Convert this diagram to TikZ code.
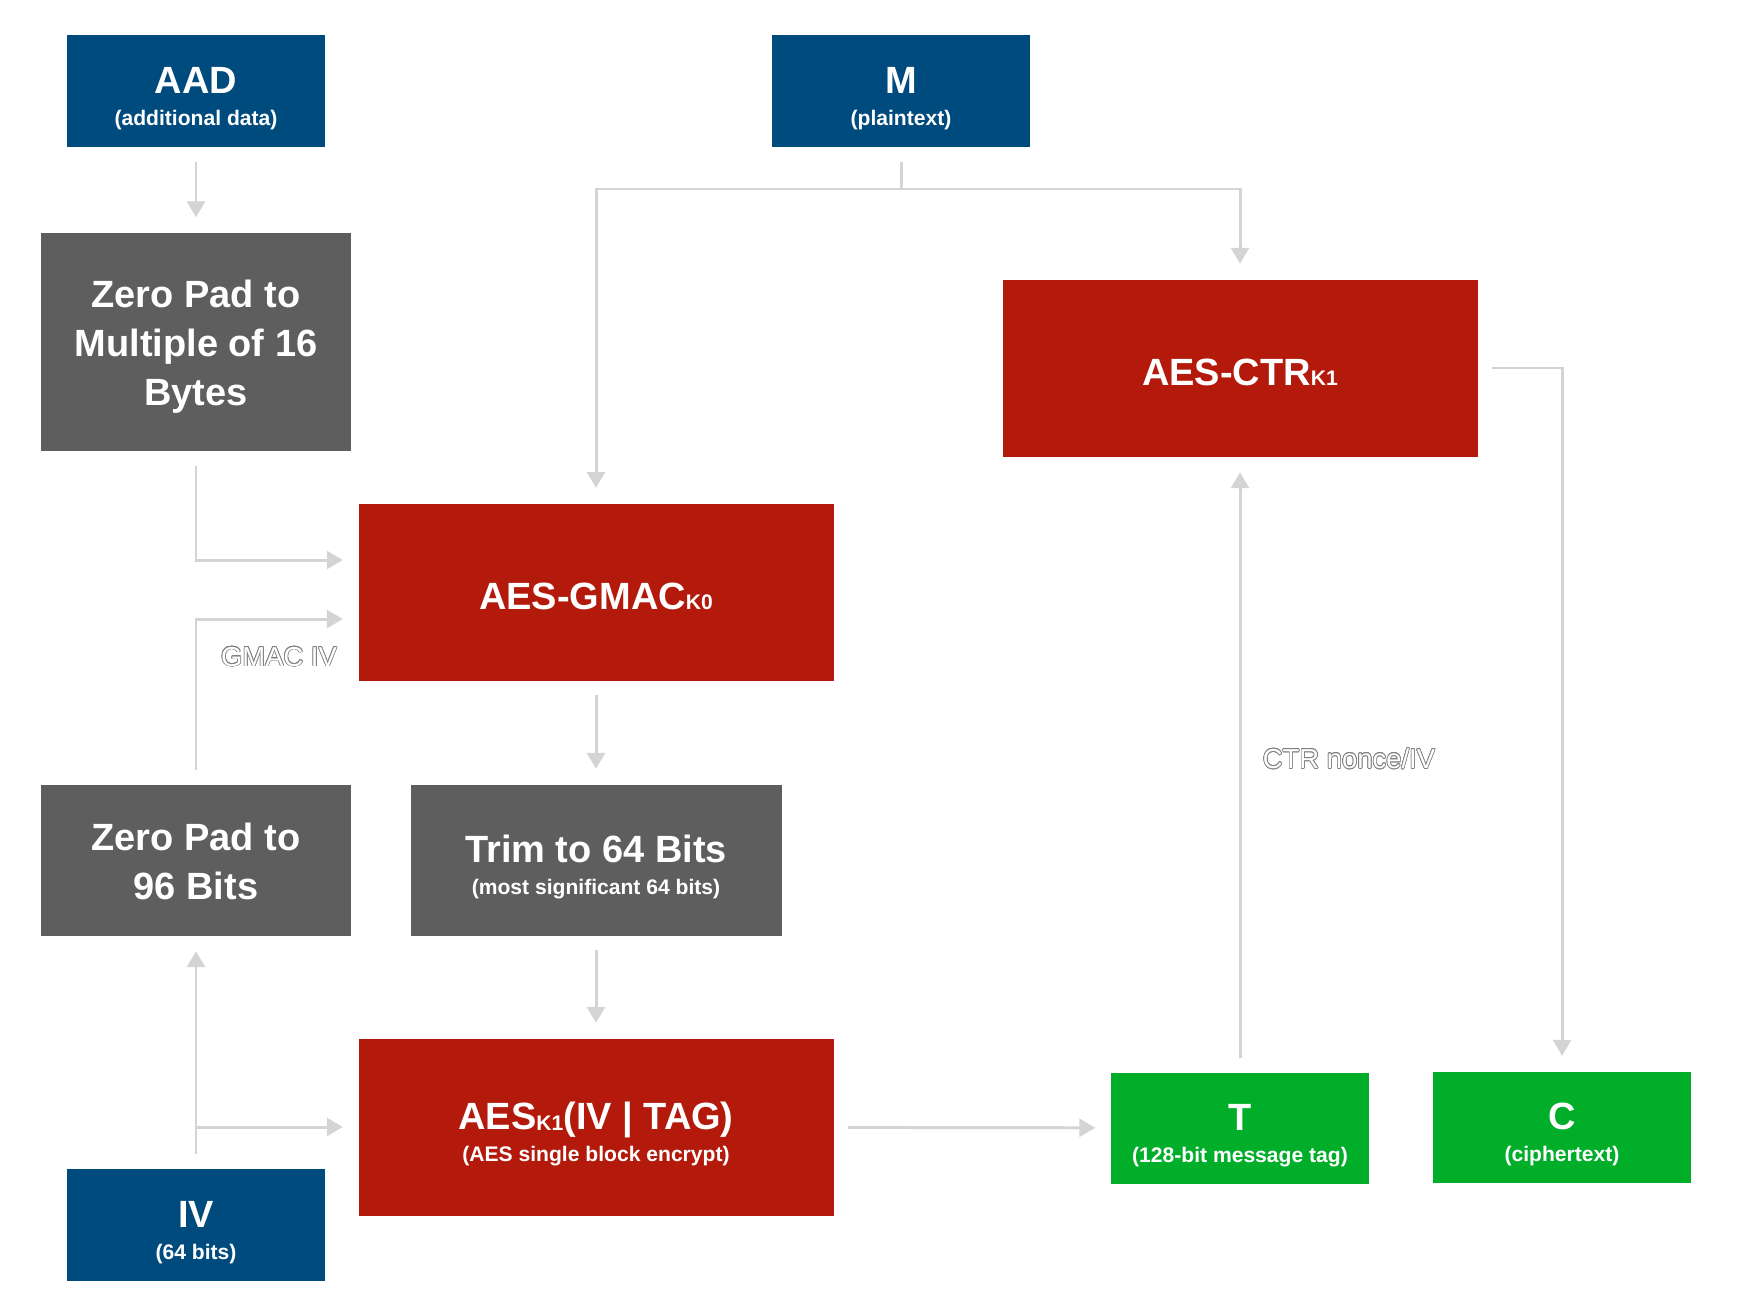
\documentclass[tikz,border=0pt]{standalone}
\usepackage{fontspec}
\setmainfont{Liberation Sans}
\usepackage{tikz}
\usetikzlibrary{arrows.meta}
\usepackage{xcolor}
\usepackage{contour}
\definecolor{inputblue}{HTML}{004B7D}
\definecolor{cipherred}{HTML}{B41A0C}
\definecolor{stepgray}{HTML}{5E5E5E}
\definecolor{outputgreen}{HTML}{00AE29}
\definecolor{arrowgray}{HTML}{D4D4D4}
\newcommand{\bigtext}{\fontsize{10.8}{13.9}\selectfont\bfseries}
\newcommand{\smalltext}{\fontsize{6}{7.2}\selectfont\bfseries}
\newcommand{\keysub}[1]{{\fontsize{6}{7}\selectfont #1}}
\newcommand{\pairtext}[2]{\rule{0pt}{11.8pt}#1\\[-4.9pt]{\smalltext #2}}
\newcommand{\ghosttext}[1]{\contour{gray}{\textcolor{white}{#1}}}
\contourlength{0.2pt}

\begin{document}
\begin{tikzpicture}[
        box/.style={text=white, inner sep=0pt, align=center, font=\bigtext,
            execute at begin node={\rule{0pt}{9.8pt}}},
        inbox/.style={box, fill=inputblue, minimum width=2.58cm, minimum height=1.12cm},
        outbox/.style={box, fill=outputgreen, minimum width=2.58cm, minimum height=1.11cm},
        aesbox/.style={box, fill=cipherred, minimum width=4.75cm, minimum height=1.77cm},
        padbox/.style={box, fill=stepgray, minimum width=3.1cm},
        flow/.style={draw=arrowgray, line width=0.85pt, -{Triangle[width=1.8mm, length=1.6mm]},
            shorten <=1.4mm, shorten >=1.5mm},
        flowline/.style={draw=arrowgray, line width=0.85pt},
        sidelabel/.style={font=\fontsize{7.8}{9}\selectfont}
    ]
        \useasboundingbox (0, 0) rectangle (17.64, 13.12);
        % inputs
        \node[inbox] (aad) at (1.96, 12.21) {\pairtext{AAD}{(additional data)}};
        \node[inbox] (msg) at (9.01, 12.21) {\pairtext{M}{(plaintext)}};
        \node[inbox] (iv) at (1.96, 0.87) {\pairtext{IV}{(64 bits)}};
        % steps
        \node[padbox, minimum height=2.18cm] (padbytes) at (1.96, 9.70)
            {\rule{0pt}{10.6pt}Zero Pad to\\Multiple of 16\\Bytes};
        \node[padbox, minimum height=1.51cm] (padbits) at (1.96, 4.52) {\rule{0pt}{8.8pt}Zero Pad to\\96 Bits};
        \node[box, fill=stepgray, minimum width=3.71cm, minimum height=1.51cm] (trim) at (5.96, 4.52)
            {\pairtext{Trim to 64 Bits}{(most significant 64 bits)}};
        \node[aesbox] (ctr) at (12.40, 9.44) {AES-CTR\keysub{K1}};
        \node[aesbox] (gmac) at (5.96, 7.20) {AES-GMAC\keysub{K0}};
        \node[aesbox] (enc) at (5.96, 1.85)
            {\pairtext{AES\raisebox{-0.3pt}{\keysub{K1}}(IV | TAG)}{(AES single block encrypt)}};
        % outputs
        \node[outbox] (tag) at (12.40, 1.84) {\pairtext{T}{(128-bit message tag)}};
        \node[outbox] (ctext) at (15.62, 1.85) {\pairtext{C}{(ciphertext)}};
        % connectors
        \coordinate (split) at (9.01, 11.23);
        \coordinate (ivsplit) at (iv.north |- enc.west);
        \draw[flow] (aad) -- (padbytes);
        \draw[flowline, shorten <=1.4mm] (msg.south) -- (split);
        \draw[flow, shorten <=0mm] (split) -| (gmac.north);
        \draw[flow, shorten <=0mm] (split) -| (ctr.north);
        \draw[flow] (padbytes.south) |- ([yshift=3.2mm]gmac.west);
        \draw[flow] (padbits.north) |- ([yshift=-2.7mm]gmac.west);
        \draw[flow] (gmac) -- (trim);
        \draw[flow] (trim) -- (enc);
        \draw[flow] (iv.north) -- (padbits.south);
        \draw[flow, shorten <=0mm] (ivsplit) -- (enc.west);
        \draw[flow] (enc) -- (tag);
        \draw[flow] (tag.north) -- (ctr.south);
        \draw[flow] (ctr.east) -| (ctext.north);
        % labels on connectors
        \node[sidelabel] (gmaciv) at (2.79, 6.55) {\ghosttext{GMAC IV}};
        \node[sidelabel] (ctriv) at (13.49, 5.53) {\ghosttext{CTR nonce/IV}};
    \end{tikzpicture}
\end{document}
